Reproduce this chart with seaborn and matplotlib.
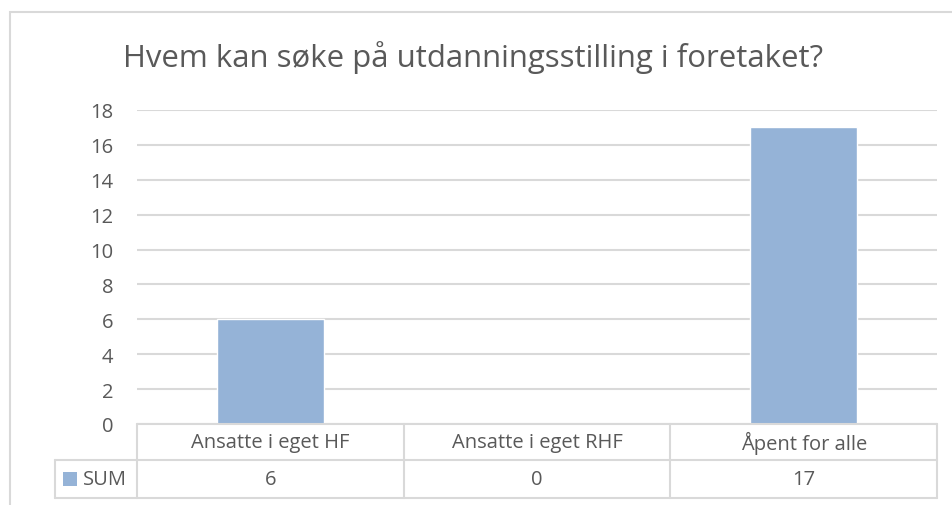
import matplotlib
matplotlib.use("Agg")
import matplotlib.pyplot as plt
import seaborn as sns
import pandas as pd
from matplotlib.patches import Rectangle
import matplotlib.transforms as mtransforms

categories = ["Ansatte i eget HF", "Ansatte i eget RHF", "Åpent for alle"]
values = [6, 0, 17]
series_name = "SUM"
title = "Hvem kan søke på utdanningsstilling i foretaket?"

bar_color = "#95B3D7"
text_color = "#595959"
line_color = "#D9D9D9"

sns.set_style("white")
plt.rcParams['font.family'] = ['Open Sans', 'DejaVu Sans']

W, H = 952, 506
fs = 14.5
fig = plt.figure(figsize=(W / 100, H / 100), dpi=100)
# plot area in pixels: left 137, right 937, top 111 (=18), bottom 425 (=0)
ax = fig.add_axes([137 / W, 1 - 425 / H, 800 / W, 314 / H])

df = pd.DataFrame({"cat": categories, "val": values})
sns.barplot(data=df, x="cat", y="val", color=bar_color, width=0.4,
            saturation=1, ax=ax, zorder=3)

ax.set_xlim(-0.5, len(categories) - 0.5)
ax.set_ylim(0, 18)
ax.set_yticks(range(0, 19, 2))
ax.yaxis.grid(True, color=line_color, linewidth=1.5, zorder=0)
ax.set_axisbelow(True)
for s in ax.spines.values():
    s.set_visible(False)
ax.tick_params(axis="y", length=0, pad=17, labelsize=fs, labelcolor=text_color)
ax.set_xticks([])
ax.set_xlabel("")
ax.set_ylabel("")

# data table under the axis
trans = mtransforms.blended_transform_factory(ax.transData, ax.transAxes)
row1 = -36 / 314
row2 = -74 / 314
legend_left = -0.5 - 82 / 800 * len(categories)
right = len(categories) - 0.5
lw = 1.5
kw = dict(color=line_color, linewidth=lw, transform=trans, clip_on=False, zorder=5)
ax.plot([-0.5, right], [0, 0], **kw)
ax.plot([legend_left, right], [row1, row1], **kw)
ax.plot([legend_left, right], [row2, row2], **kw)
ax.plot([legend_left, legend_left], [row1, row2], **kw)
for i in range(len(categories) + 1):
    ax.plot([i - 0.5, i - 0.5], [0, row2], **kw)

for i, (c, v) in enumerate(zip(categories, values)):
    ax.text(i, row1 / 2, c, transform=trans, ha="center", va="center",
            fontsize=fs, color=text_color)
    ax.text(i, (row1 + row2) / 2, str(v), transform=trans, ha="center",
            va="center", fontsize=fs, color=text_color)

# legend key + series name
key_x = -0.5 - 74 / 800 * len(categories)
key_w = 14 / 800 * len(categories)
key_h = 14 / 314
ax.add_patch(Rectangle((key_x, (row1 + row2) / 2 - key_h / 2), key_w, key_h,
                       transform=trans, facecolor=bar_color, edgecolor="none",
                       clip_on=False))
ax.text(-0.5 - 54 / 800 * len(categories), (row1 + row2) / 2, series_name,
        transform=trans, ha="left", va="center", fontsize=fs, color=text_color)

# title
fig.text(473 / W, 1 - 58 / H, title, ha="center", va="center",
         fontsize=22.4, color=text_color)

# chart border
fig.patches.append(Rectangle((9.5 / W, -0.1), 1.1, 1 - 12.5 / H + 0.1,
                             transform=fig.transFigure, fill=False,
                             edgecolor=line_color, linewidth=1.5))

fig.savefig("out.png", dpi=100, facecolor="white")
